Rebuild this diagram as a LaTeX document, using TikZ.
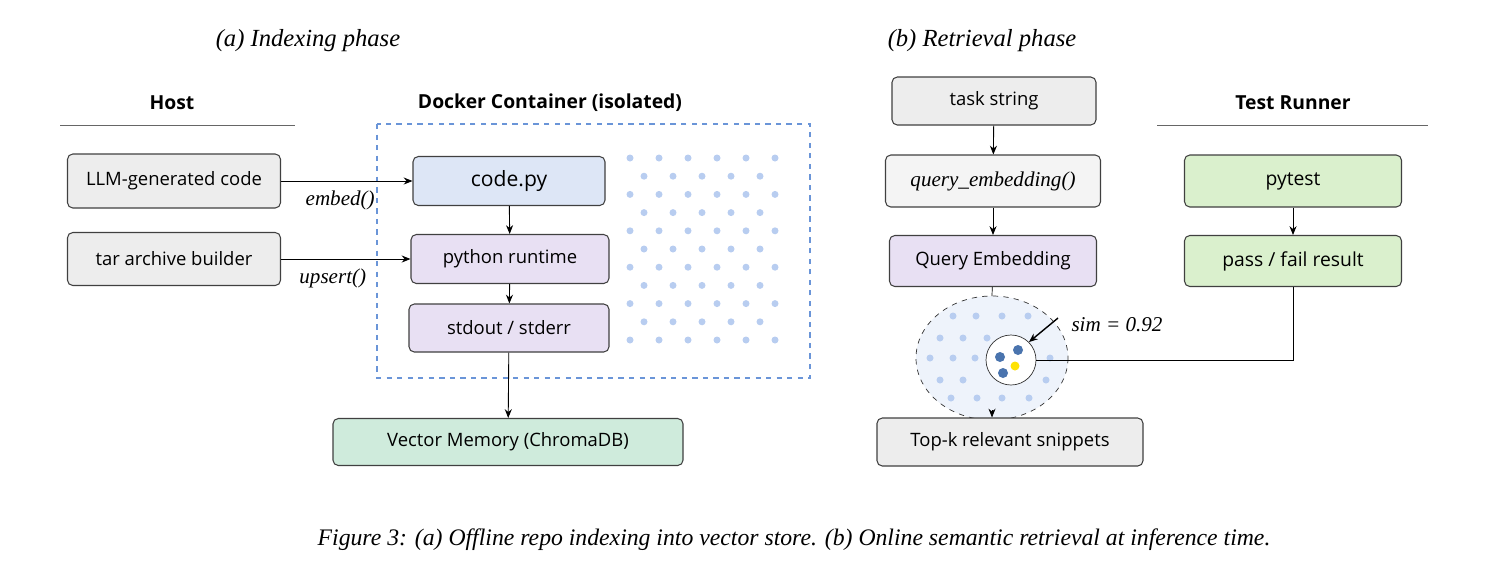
\documentclass[tikz,border=0pt]{standalone}
\usepackage{fontspec}
\setsansfont{Open Sans}
\newfontfamily\capfont{Liberation Serif}
\usetikzlibrary{arrows.meta}
\definecolor{boxgray}{HTML}{EDEDED}
\definecolor{boxblue}{HTML}{DDE6F6}
\definecolor{boxpurple}{HTML}{E8E0F3}
\definecolor{boxmint}{HTML}{CFEBDC}
\definecolor{boxgreen}{HTML}{DAF0CD}
\definecolor{dotblue}{HTML}{B8CDF0}
\definecolor{darkdot}{HTML}{4A74AE}
\definecolor{dashblue}{HTML}{6A95D8}
\definecolor{spacefill}{HTML}{EEF3FB}
\tikzset{
  blk/.style={draw=black!75, rounded corners=3pt, line width=0.6pt, font=\sffamily\fontsize{10.5}{12}\selectfont, inner sep=0pt},
  hdr/.style={font=\sffamily\bfseries\fontsize{11}{13}\selectfont},
  lbl/.style={font=\capfont\itshape\fontsize{12}{14}\selectfont},
  arr/.style={-{Stealth[length=5pt,width=4pt]}, line width=0.5pt}
}
\begin{document}
\begin{tikzpicture}[x=0.02cm, y=-0.02cm]
\useasboundingbox (0,0) rectangle (1487,572);
\node[lbl, font=\capfont\itshape\fontsize{14}{16}\selectfont] at (308,41) {(a) Indexing phase};
\node[lbl, font=\capfont\itshape\fontsize{14}{16}\selectfont] at (982,41) {(b) Retrieval phase};
\node[hdr] at (172,103) {Host};
\node[hdr] at (550,103) {Docker Container (isolated)};
\node[hdr] at (1293,103) {Test Runner};
\draw[black!60] (60,125) -- (295,125);
\draw[black!60] (1157,125) -- (1428,125);
% container
\draw[dashblue, dashed, line width=0.9pt] (377,124) rectangle (810,378);
\foreach \r in {0,...,10}{
  \pgfmathsetmacro{\yy}{158+18.2*\r}
  \ifodd\r
    \foreach \c in {0,...,4}{\fill[dotblue] (644+29*\c,\yy) circle (3.5);}
  \else
    \foreach \c in {0,...,5}{\fill[dotblue] (630+29*\c,\yy) circle (3.5);}
  \fi
}
% indexing
\node[blk, fill=boxgray, minimum width=213*0.02cm, minimum height=54*0.02cm] (llm) at (174,181) {LLM-generated code};
\node[blk, fill=boxgray, minimum width=213*0.02cm, minimum height=53*0.02cm] (tar) at (174,259) {tar archive builder};
\node[blk, fill=boxblue, minimum width=192*0.02cm, minimum height=49*0.02cm, font=\sffamily\fontsize{12}{14}\selectfont] (code) at (509,181) {code.py};
\node[blk, fill=boxpurple, minimum width=198*0.02cm, minimum height=49*0.02cm] (run) at (510,259) {python runtime};
\node[blk, fill=boxpurple, minimum width=200*0.02cm, minimum height=48*0.02cm] (out) at (509,328) {stdout / stderr};
\node[blk, fill=boxmint, minimum width=350*0.02cm, minimum height=47*0.02cm] (vec) at (508,442) {Vector Memory (ChromaDB)};
\draw[arr] (llm) -- (code) node[lbl, pos=0.45, below=2pt] {embed()};
\draw[arr] (tar) -- (run) node[lbl, pos=0.4, below=2pt] {upsert()};
\draw[arr] (code) -- (run);
\draw[arr] (run) -- (out);
\draw[arr] (out) -- (vec);
% retrieval
\node[blk, fill=boxgray, minimum width=204*0.02cm, minimum height=48*0.02cm] (task) at (994,101) {task string};
\node[blk, fill=boxgray!60, minimum width=215*0.02cm, minimum height=52*0.02cm, font=\capfont\itshape\fontsize{12}{14}\selectfont] (qfn) at (993,181) {query\_embedding()};
\node[blk, fill=boxpurple, minimum width=207*0.02cm, minimum height=51*0.02cm] (qemb) at (993,261) {Query Embedding};
\draw[arr] (task) -- (qfn);
\draw[arr] (qfn) -- (qemb);
\draw[black!80, dashed, fill=spacefill] (992,358) ellipse [x radius=76, y radius=62];
\coordinate (sptop) at (992,296);
\coordinate (spbot) at (992,410);
\draw (qemb) -- (sptop);
\foreach \x/\y in {953/316,976/316,1002/316,1028/316,940/338,963/338,987/338,930/358,953/358,975/358,1050/358,940/380,963/380,1046/380,951/398,977/398,1002/398,1029/398}
  \fill[dotblue] (\x,\y) circle (3.5);
\node[circle, draw=black!80, fill=white, minimum size=50*0.02cm, inner sep=0pt] (near) at (1011,360) {};
\fill[darkdot] (1000,357) circle (5);
\fill[darkdot] (1018,350) circle (5);
\fill[darkdot] (1003,373) circle (5);
\fill[yellow!85!orange] (1015,366) circle (4.5);
\node[blk, fill=boxgray, minimum width=266*0.02cm, minimum height=48*0.02cm] (topk) at (1010,442) {Top-k relevant snippets};
\draw[arr] (spbot) -- (spbot |- topk.north);
\node[blk, fill=boxgreen, minimum width=217*0.02cm, minimum height=52*0.02cm, font=\sffamily\fontsize{11}{13}\selectfont] (pyt) at (1293,181) {pytest};
\node[blk, fill=boxgreen, minimum width=217*0.02cm, minimum height=51*0.02cm, font=\sffamily\fontsize{11}{13}\selectfont] (res) at (1293,261) {pass / fail result};
\draw[arr] (pyt) -- (res);
\draw (res) |- (near.east);
\node[lbl] (sim) at (1117,325) {sim = 0.92};
\draw[arr, line width=0.8pt] (1058,318) -- (near.north east);
\node[lbl, font=\capfont\itshape\fontsize{13.5}{16}\selectfont] at (794,540) {Figure 3: (a) Offline repo indexing into vector store. (b) Online semantic retrieval at inference time.};
\end{tikzpicture}
\end{document}
